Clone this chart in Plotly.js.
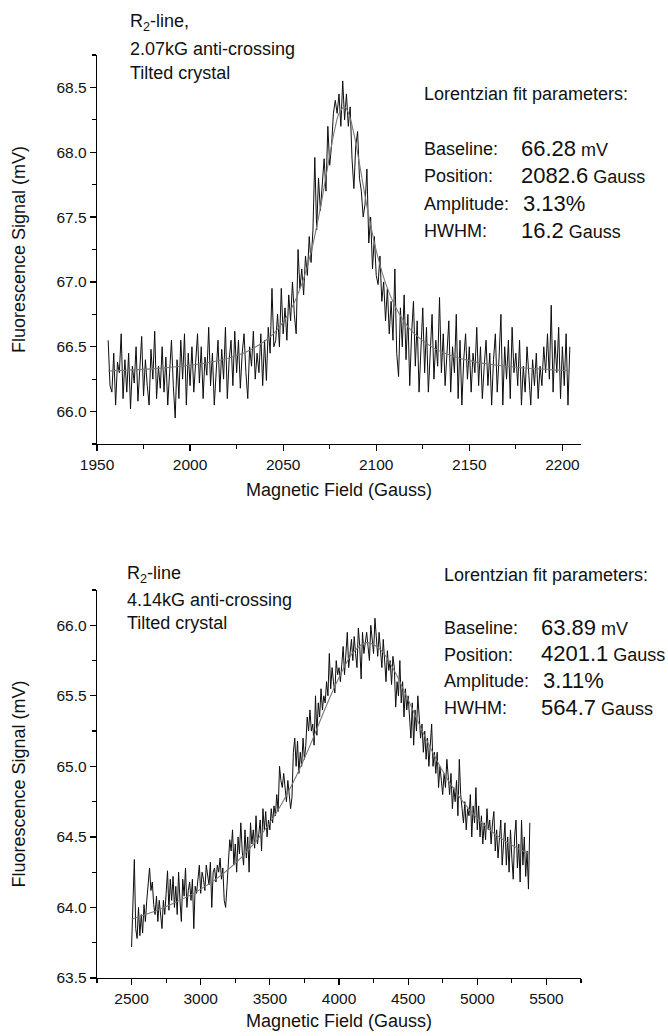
<!DOCTYPE html>
<html>
<head>
<meta charset="utf-8">
<script src="https://cdn.plot.ly/plotly-3.0.1.min.js"></script>
<style>
  html, body { margin: 0; padding: 0; background: #fff; }
  #chart { width: 668px; height: 1036px; }
</style>
</head>
<body>
<div id="chart"></div>
<script>
// ---------- DATA ----------
// Top panel: 2.07 kG anti-crossing, sampled every 1 G from 1956 G
const topFieldStart = 1956;
const topFieldStep = 1;
const topSignal = [
  66.55, 66.2, 66.15, 66.45, 66.05, 66.38, 66.3, 66.6, 66.1, 66.4,
  66.15, 66.45, 66.02, 66.35, 66.22, 66.5, 66.08, 66.3, 66.58, 66.12,
  66.4, 66.2, 66.05, 66.48, 66.25, 66.62, 66.1, 66.35, 66.18, 66.5,
  66.15, 66.42, 66.05, 66.3, 66.55, 66.2, 65.95, 66.4, 66.1, 66.55,
  66.25, 66.6, 66.05, 66.45, 66.2, 66.5, 66.15, 66.38, 66.6, 66.22,
  66.5, 66.1, 66.42, 66.28, 66.65, 66.2, 66.45, 66.05, 66.35, 66.55,
  66.15, 66.48, 66.25, 66.65, 66.1, 66.4, 66.55, 66.2, 66.62, 66.3,
  66.55, 66.18, 66.45, 66.6, 66.3, 66.1, 66.5, 66.35, 66.62, 66.25,
  66.45, 66.3, 66.6, 66.2, 66.55, 66.24, 66.65, 66.45, 66.95, 66.5,
  66.55, 66.75, 66.5, 66.95, 66.6, 66.8, 66.55, 66.9, 66.7, 67.0,
  66.75, 66.6, 67.25, 66.95, 67.1, 66.9, 67.2, 67.05, 67.35, 67.15,
  67.4, 67.96, 67.4, 67.8, 67.55, 67.75, 67.95, 67.7, 68.2, 67.9,
  68.05, 68.3, 68.4, 68.3, 68.45, 68.2, 68.55, 68.25, 68.45, 68.2,
  68.35, 67.95, 67.72, 68.05, 68.16, 67.8, 67.7, 67.5, 67.6, 67.87,
  67.3, 67.5, 67.1, 67.35, 67.05, 66.98, 67.2, 66.85, 67.0, 66.7,
  66.95, 66.6, 66.85, 66.55, 67.1, 66.45, 66.27, 66.8, 66.5, 66.9,
  66.4, 66.75, 66.2, 66.6, 66.85, 66.35, 66.7, 66.15, 66.55, 66.8,
  66.3, 66.65, 66.15, 66.5, 66.75, 66.25, 66.55, 66.35, 66.88, 66.3,
  66.6, 66.2, 66.45, 66.7, 66.15, 66.5, 66.3, 66.75, 66.1, 66.55,
  66.05, 66.4, 66.6, 66.25, 66.5, 66.15, 66.45, 66.3, 66.65, 66.2,
  66.5, 66.1, 66.35, 66.55, 66.2, 66.45, 66.05, 66.4, 66.6, 66.15,
  66.42, 66.75, 66.05, 66.5, 66.25, 66.55, 66.1, 66.65, 66.3, 66.45,
  66.2, 66.55, 66.05, 66.35, 66.15, 66.5, 66.28, 66.05, 66.4, 66.2,
  66.45, 66.1, 66.35, 66.2, 66.5, 66.3, 66.6, 66.25, 66.82, 66.15,
  66.55, 66.3, 66.65, 66.1, 66.5, 66.2, 66.6, 66.05, 66.5
];
// Lorentzian fit curve of the top panel
const topFitField = [1956, 1970, 1985, 2000, 2010, 2020, 2030, 2040, 2045, 2050, 2055, 2060, 2065, 2070, 2075, 2078, 2080, 2083, 2085, 2088, 2090, 2095, 2100, 2105, 2110, 2115, 2120, 2130, 2140, 2150, 2165, 2180, 2195, 2204];
const topFitSignal = [66.313, 66.322, 66.335, 66.357, 66.378, 66.41, 66.459, 66.542, 66.604, 66.69, 66.81, 66.983, 67.23, 67.57, 67.977, 68.196, 68.298, 68.35, 68.306, 68.143, 67.993, 67.585, 67.241, 66.991, 66.816, 66.694, 66.607, 66.497, 66.433, 66.393, 66.357, 66.336, 66.322, 66.316];

// Bottom panel: 4.14 kG anti-crossing, sampled every 10 G from 2500 G
const botFieldStart = 2500;
const botFieldStep = 10;
const botSignal = [
  63.72, 64.05, 64.34, 63.85, 63.78, 64.0, 63.8, 63.95, 63.82, 64.02,
  63.9, 64.05, 64.15, 64.28, 64.12, 64.18, 64.02, 63.95, 64.08, 63.9,
  64.05, 63.92, 63.85, 64.05, 63.95, 64.1, 64.26, 63.98, 64.2, 64.05,
  64.22, 64.0, 64.15, 63.95, 64.25, 64.05, 63.9, 64.2, 64.08, 64.28,
  64.0, 64.12, 64.18, 64.05, 64.2, 63.85, 64.15, 64.1, 64.22, 64.3,
  64.1, 64.25, 64.2, 64.12, 64.3, 64.22, 64.16, 64.32, 64.0, 64.25,
  64.28, 64.18, 64.3, 64.25, 64.35, 64.2, 64.28, 64.05, 64.0, 64.15,
  64.3, 64.48, 64.4, 64.55, 64.3, 64.45, 64.25, 64.5, 64.38, 64.6,
  64.4, 64.3, 64.55, 64.35, 64.5, 64.25, 64.6, 64.45, 64.55, 64.42,
  64.65, 64.45, 64.52, 64.62, 64.4, 64.7, 64.55, 64.68, 64.5, 64.62,
  64.55, 64.7, 64.6, 64.72, 64.65, 64.8, 64.68, 65.0, 64.9, 64.85,
  64.95, 64.85, 64.75, 64.9, 64.8, 64.7, 64.78, 65.1, 65.2, 65.0,
  65.18, 64.95, 65.1, 65.0, 65.2, 65.05, 65.15, 65.35, 65.25, 65.4,
  65.25, 65.3, 65.15, 65.5, 65.22, 65.45, 65.35, 65.55, 65.4, 65.5,
  65.45, 65.6, 65.5, 65.8, 65.55, 65.7, 65.6, 65.52, 65.75, 65.65,
  65.7, 65.6, 65.72, 65.85, 65.65, 65.78, 65.95, 65.7, 65.82, 65.9,
  65.75, 65.92, 65.8, 65.7, 65.98, 65.85, 65.62, 65.95, 65.8, 65.9,
  65.95, 65.85, 65.75, 66.0, 65.88, 65.8, 66.05, 65.9, 65.78, 65.95,
  65.85, 65.7, 65.9, 65.72, 65.6, 65.82, 65.68, 65.75, 65.58, 65.78,
  65.7, 65.42, 65.6, 65.5, 65.75, 65.45, 65.6, 65.35, 65.55, 65.4,
  65.5, 65.35, 65.2, 65.45, 65.15, 65.4, 65.25, 65.5, 65.3, 65.2,
  65.3, 65.1, 65.25, 65.05, 65.2, 65.0, 65.15, 65.3, 65.0, 65.1,
  64.95, 65.1, 64.85, 65.0, 64.9, 64.8, 64.95, 64.85, 65.05, 64.9,
  64.8, 64.95, 64.7, 64.85, 64.75, 64.9, 64.65, 65.05, 64.8, 64.7,
  64.6, 64.75, 64.55, 64.7, 64.65, 64.8, 64.5, 64.72, 64.6, 64.85,
  64.55, 64.72, 64.5, 64.65, 64.45, 64.6, 64.48, 64.7, 64.55, 64.62,
  64.45, 64.6, 64.68, 64.4, 64.55, 64.35, 64.5, 64.62, 64.3, 64.48,
  64.6, 64.3, 64.5, 64.25, 64.55, 64.35, 64.2, 64.5, 64.62, 64.28,
  64.45, 64.18, 64.62, 64.3, 64.5, 64.22, 64.4, 64.13, 64.6
];
// Lorentzian fit curve of the bottom panel
const botFitField = [2500, 2600, 2700, 2800, 2900, 3000, 3100, 3200, 3300, 3400, 3500, 3600, 3700, 3800, 3900, 4000, 4100, 4200, 4300, 4400, 4500, 4600, 4700, 4800, 4900, 5000, 5100, 5200, 5300, 5380];
const botFitSignal = [63.917, 63.95, 63.986, 64.028, 64.075, 64.13, 64.194, 64.27, 64.36, 64.47, 64.60, 64.76, 64.95, 65.17, 65.41, 65.63, 65.805, 65.877, 65.828, 65.678, 65.472, 65.256, 65.056, 64.885, 64.745, 64.632, 64.542, 64.471, 64.415, 64.379];

// Text content
const topLabelLines = ['R<sub>2</sub>-line,', '2.07kG anti-crossing', 'Tilted crystal'];
const botLabelLines = ['R<sub>2</sub>-line', '4.14kG anti-crossing', 'Tilted crystal'];
const fitTitle = 'Lorentzian fit parameters:';
const paramNames = ['Baseline:', 'Position:', 'Amplitude:', 'HWHM:'];
const topParamValues = ['66.28', '2082.6', '3.13%', '16.2'];
const topParamUnits = ['mV', 'Gauss', '', 'Gauss'];
const botParamValues = ['63.89', '4201.1', '3.11%', '564.7'];
const botParamUnits = ['mV', 'Gauss', '', 'Gauss'];
const xTitle = 'Magnetic Field (Gauss)';
const yTitle = 'Fluorescence Signal (mV)';

// ---------- CHART ----------
const FONT = '"Liberation Sans", Arial, Helvetica, sans-serif';
const W = 668, H = 1036;
const M = {l: 97, r: 87, t: 55, b: 58};
const PW = W - M.l - M.r, PH = H - M.t - M.b;
function px(x) { return (x - M.l) / PW; }
function py(y) { return (H - M.b - y) / PH; }

const topX = topSignal.map((_, i) => topFieldStart + i * topFieldStep);
const botX = botSignal.map((_, i) => botFieldStart + i * botFieldStep);

const dataLine = {color: '#0d0d0d', width: 1};
const fitLine = {color: '#7a7a7a', width: 1.1, shape: 'spline'};

const traces = [
  {x: topX, y: topSignal, type: 'scatter', mode: 'lines', line: dataLine, xaxis: 'x', yaxis: 'y', hoverinfo: 'skip'},
  {x: topFitField, y: topFitSignal, type: 'scatter', mode: 'lines', line: fitLine, xaxis: 'x', yaxis: 'y', hoverinfo: 'skip'},
  {x: botX, y: botSignal, type: 'scatter', mode: 'lines', line: dataLine, xaxis: 'x2', yaxis: 'y2', hoverinfo: 'skip'},
  {x: botFitField, y: botFitSignal, type: 'scatter', mode: 'lines', line: fitLine, xaxis: 'x2', yaxis: 'y2', hoverinfo: 'skip'}
];

function axisBase() {
  return {
    showline: true, linecolor: '#000', linewidth: 1.3,
    ticks: 'outside', ticklen: 6, tickwidth: 1.2, tickcolor: '#000',
    showgrid: false, zeroline: false, mirror: false,
    tickfont: {family: FONT, size: 15.5, color: '#111'},
    automargin: false, fixedrange: true
  };
}
const tf = {family: FONT, size: 18, color: '#111'};

const layout = {
  width: W, height: H,
  margin: M,
  paper_bgcolor: '#fff', plot_bgcolor: '#fff',
  showlegend: false,
  font: {family: FONT, color: '#111'},
  xaxis: Object.assign(axisBase(), {
    domain: [0, 1], anchor: 'y', range: [1950, 2210], tick0: 1950, dtick: 50,
    minor: {ticks: 'outside', ticklen: 3.5, tickwidth: 1.2, tickcolor: '#000', dtick: 25, tick0: 1950, showgrid: false},
    title: {text: xTitle, font: tf, standoff: 11}
  }),
  yaxis: Object.assign(axisBase(), {
    domain: [py(444), 1], anchor: 'x', range: [65.75, 68.75], tick0: 66, dtick: 0.5, tickformat: '.1f',
    minor: {ticks: 'outside', ticklen: 3.5, tickwidth: 1.2, tickcolor: '#000', dtick: 0.25, tick0: 66, showgrid: false},
    title: {text: yTitle, font: tf, standoff: 26}
  }),
  xaxis2: Object.assign(axisBase(), {
    domain: [0, 1], anchor: 'y2', range: [2250, 5750], tick0: 2500, dtick: 500,
    minor: {ticks: 'outside', ticklen: 3.5, tickwidth: 1.2, tickcolor: '#000', dtick: 250, tick0: 2500, showgrid: false},
    title: {text: xTitle, font: tf, standoff: 8}
  }),
  yaxis2: Object.assign(axisBase(), {
    domain: [0, py(590)], anchor: 'x2', range: [63.5, 66.25], tick0: 63.5, dtick: 0.5, tickformat: '.1f',
    minor: {ticks: 'outside', ticklen: 3.5, tickwidth: 1.2, tickcolor: '#000', dtick: 0.25, tick0: 63.5, showgrid: false},
    title: {text: yTitle, font: tf, standoff: 26}
  }),
  annotations: []
};

function note(text, x, y, size) {
  layout.annotations.push({
    text: text, xref: 'paper', yref: 'paper', x: px(x), y: py(y),
    xanchor: 'left', yanchor: 'middle', showarrow: false, align: 'left',
    font: {family: FONT, size: size || 18, color: '#111'}
  });
}
function valueText(v, u) {
  return '<span style="font-size:22px">' + v + '</span>' + (u ? ' ' + u : '');
}

// top panel texts
const topLabelY = [23, 49, 73];
topLabelLines.forEach((t, i) => note(t, 128, topLabelY[i]));
note(fitTitle, 421.7, 94);
const topRowY = [149, 176, 203.5, 231];
paramNames.forEach((n, i) => {
  note(n, 421.7, topRowY[i]);
  note(valueText(topParamValues[i], topParamUnits[i]), i === 2 ? 521 : 519.3, topRowY[i] - 0.5);
});

// bottom panel texts
const botLabelY = [574, 600, 623];
botLabelLines.forEach((t, i) => note(t, 125, botLabelY[i]));
note(fitTitle, 441.7, 574.5);
const botRowY = [627.5, 654.5, 681, 708];
paramNames.forEach((n, i) => {
  note(n, 441.7, botRowY[i]);
  note(valueText(botParamValues[i], botParamUnits[i]), i === 2 ? 541 : 539.3, botRowY[i] - 0.5);
});

Plotly.newPlot('chart', traces, layout, {staticPlot: true, displayModeBar: false});
</script>
</body>
</html>
